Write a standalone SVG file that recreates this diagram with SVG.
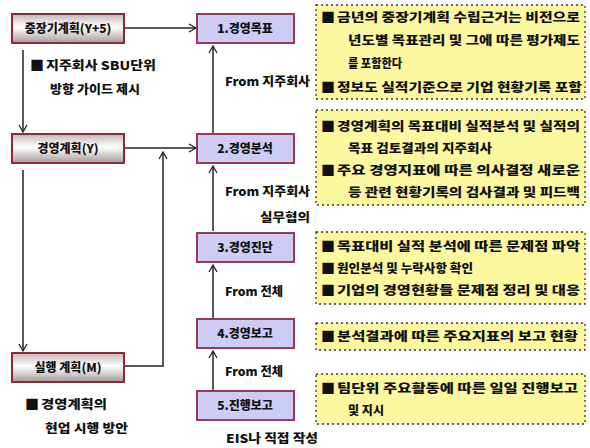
<svg xmlns="http://www.w3.org/2000/svg" width="590" height="448" viewBox="0 0 590 448">
<defs>
<linearGradient id="lg" x1="0" y1="0" x2="0" y2="1">
<stop offset="0" stop-color="#c4b4b6"/>
<stop offset="0.45" stop-color="#ffffff"/>
<stop offset="1" stop-color="#a89a9c"/>
</linearGradient>
<marker id="ar" markerWidth="10" markerHeight="10" refX="8" refY="5" orient="auto" markerUnits="userSpaceOnUse">
<path d="M1,1 L8,5 L1,9" fill="none" stroke="#222" stroke-width="1.3"/>
</marker>
<style>
text{font-family:"Noto Sans CJK KR","Liberation Sans",sans-serif;font-weight:900;font-size:12px;fill:#111}
.lb{fill:url(#lg);stroke:#8a2b3b;stroke-width:2}
.cb{fill:#ccccf4;stroke:#9a3a5a;stroke-width:2}
.yb{fill:#fbf8a0;stroke:#333;stroke-width:1.3;stroke-dasharray:2 3}
.c{text-anchor:middle}
.bu{font-size:14px}
.ln{fill:none;stroke:#222;stroke-width:1.5;marker-end:url(#ar)}
</style>
</defs>
<rect width="590" height="448" fill="#ffffff"/>

<g id="connectors">
<path class="ln" d="M124,28 H196"/>
<path class="ln" d="M124,148 H196"/>
<path class="ln" d="M124,366 H163 V152"/>
<path class="ln" d="M23,50 V132"/>
<path class="ln" d="M23,170 V351"/>
<path class="ln" d="M213,133 V46"/>
<path class="ln" d="M213,231 V166"/>
<path class="ln" d="M213,318 V265"/>
<path class="ln" d="M213,390 V351"/>
</g>

<g id="n-longterm"><rect class="lb" x="12" y="14" width="112" height="29"/><text class="c" x="68" y="33">중장기계획(Y+5)</text></g>
<g id="n-plan"><rect class="lb" x="12" y="134" width="112" height="29"/><text class="c" x="68" y="153">경영계획(Y)</text></g>
<g id="n-exec"><rect class="lb" x="12" y="353" width="112" height="29"/><text class="c" x="68" y="372">실행 계획(M)</text></g>

<g id="t-left1"><text class="bu" x="30" y="70">■</text><text x="46" y="70" textLength="110" lengthAdjust="spacingAndGlyphs">지주회사 SBU단위</text><text x="50" y="94" textLength="90" lengthAdjust="spacingAndGlyphs">방향 가이드 제시</text></g>
<g id="t-left2"><text class="bu" x="25" y="409">■</text><text x="41" y="409" textLength="66" lengthAdjust="spacingAndGlyphs">경영계획의</text><text x="45" y="433" textLength="83" lengthAdjust="spacingAndGlyphs">현업 시행 방안</text></g>

<g id="n-1"><rect class="cb" x="197" y="14" width="97" height="29"/><text class="c" x="245" y="33">1.경영목표</text></g>
<g id="n-2"><rect class="cb" x="197" y="134" width="97" height="29"/><text class="c" x="245" y="153">2.경영분석</text></g>
<g id="n-3"><rect class="cb" x="197" y="233" width="97" height="29"/><text class="c" x="245" y="252">3.경영진단</text></g>
<g id="n-4"><rect class="cb" x="197" y="319" width="97" height="29"/><text class="c" x="245" y="338">4.경영보고</text></g>
<g id="n-5"><rect class="cb" x="197" y="391" width="97" height="29"/><text class="c" x="245" y="410">5.진행보고</text></g>

<g id="labels">
<text x="225" y="86" textLength="85" lengthAdjust="spacingAndGlyphs">From 지주회사</text>
<text x="225" y="196" textLength="85" lengthAdjust="spacingAndGlyphs">From 지주회사</text>
<text x="260" y="222" textLength="50" lengthAdjust="spacingAndGlyphs">실무협의</text>
<text x="225" y="296" textLength="58" lengthAdjust="spacingAndGlyphs">From 전체</text>
<text x="225" y="376" textLength="58" lengthAdjust="spacingAndGlyphs">From 전체</text>
<text x="226" y="443" textLength="92" lengthAdjust="spacingAndGlyphs">EIS나 직접 작성</text>
</g>

<g id="n-a"><rect class="yb" x="316" y="5" width="269" height="94"/>
<text class="bu" x="321" y="22">■</text><text x="337" y="22" textLength="243" lengthAdjust="spacingAndGlyphs">금년의 중장기계획 수립근거는 비전으로</text>
<text x="348" y="45" textLength="232" lengthAdjust="spacingAndGlyphs">년도별 목표관리 및 그에 따른 평가제도</text>
<text x="348" y="68" textLength="54" lengthAdjust="spacingAndGlyphs">를 포함한다</text>
<text class="bu" x="321" y="92">■</text><text x="337" y="92" textLength="245" lengthAdjust="spacingAndGlyphs">정보도 실적기준으로 기업 현황기록 포함</text>
</g>
<g id="n-b"><rect class="yb" x="316" y="110" width="269" height="95"/>
<text class="bu" x="321" y="131">■</text><text x="337" y="131" textLength="243" lengthAdjust="spacingAndGlyphs">경영계획의 목표대비 실적분석 및 실적의</text>
<text x="348" y="153" textLength="144" lengthAdjust="spacingAndGlyphs">목표 검토결과의 지주회사</text>
<text class="bu" x="321" y="175">■</text><text x="337" y="175" textLength="243" lengthAdjust="spacingAndGlyphs">주요 경영지표에 따른 의사결정 새로운</text>
<text x="348" y="197" textLength="232" lengthAdjust="spacingAndGlyphs">등 관련 현황기록의 검사결과 및 피드백</text>
</g>
<g id="n-c"><rect class="yb" x="316" y="232" width="269" height="72"/>
<text class="bu" x="321" y="251">■</text><text x="337" y="251" textLength="243" lengthAdjust="spacingAndGlyphs">목표대비 실적 분석에 따른 문제점 파악</text>
<text class="bu" x="321" y="273">■</text><text x="337" y="273" textLength="136" lengthAdjust="spacingAndGlyphs">원인분석 및 누락사항 확인</text>
<text class="bu" x="321" y="295">■</text><text x="337" y="295" textLength="243" lengthAdjust="spacingAndGlyphs">기업의 경영현황들 문제점 정리 및 대응</text>
</g>
<g id="n-d"><rect class="yb" x="316" y="323" width="269" height="27"/>
<text class="bu" x="321" y="341">■</text><text x="337" y="341" textLength="241" lengthAdjust="spacingAndGlyphs">분석결과에 따른 주요지표의 보고 현황</text>
</g>
<g id="n-e"><rect class="yb" x="316" y="374" width="269" height="50"/>
<text class="bu" x="321" y="393">■</text><text x="337" y="393" textLength="241" lengthAdjust="spacingAndGlyphs">팀단위 주요활동에 따른 일일 진행보고</text>
<text x="348" y="415" textLength="36" lengthAdjust="spacingAndGlyphs">및 지시</text>
</g>
</svg>
